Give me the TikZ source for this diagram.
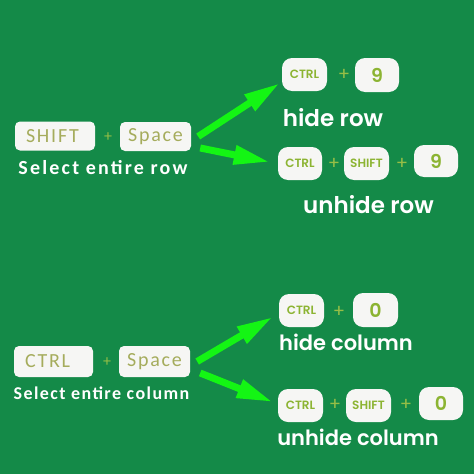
\documentclass[tikz,border=0pt]{standalone}
\usepackage{fontspec}
\setmainfont{Carlito}
\newfontfamily\pop{Poppins}[BoldFont={Poppins SemiBold}]
\newfontfamily\carsp{Carlito}[LetterSpace=9]
\newfontfamily\carspa{Carlito}[LetterSpace=11]
\newfontfamily\carspb{Carlito}[LetterSpace=8]
\usetikzlibrary{arrows.meta}
\definecolor{bg}{RGB}{20,138,72}
\definecolor{arrg}{RGB}{20,245,20}
\definecolor{keytxt}{RGB}{165,172,92}
\definecolor{keytxtb}{RGB}{140,180,50}
\definecolor{plusc}{RGB}{150,190,70}
\definecolor{keyfill}{RGB}{246,246,244}
\tikzset{
  bigkey/.style={fill=keyfill, rounded corners=5pt, inner sep=0pt, text=keytxt, font=\carsp\fontsize{20}{20}\selectfont},
  smallkey/.style={fill=keyfill, rounded corners=10pt, inner sep=0pt, text=keytxtb, font=\pop\bfseries\fontsize{12}{12}\selectfont},
  digitkey/.style={fill=keyfill, rounded corners=10pt, inner sep=0pt, text=keytxtb, font=\pop\bfseries\fontsize{19}{19}\selectfont},
  plus/.style={text=plusc, inner sep=0pt, font=\pop\fontsize{18}{18}\selectfont},
  plusl/.style={text=plusc, inner sep=0pt, font=\fontsize{16}{16}\selectfont},
  sellabela/.style={text=white, inner sep=0pt, font=\carspa\bfseries\fontsize{20}{20}\selectfont},
  sellabelb/.style={text=white, inner sep=0pt, font=\carspb\bfseries\fontsize{18}{18}\selectfont},
  actlabel/.style={text=white, inner sep=0pt, font=\pop\bfseries\fontsize{23}{23}\selectfont},
  actlabelb/.style={text=white, inner sep=0pt, font=\pop\bfseries\fontsize{21}{21}\selectfont},
  arr/.style={draw=arrg, line width=7pt, -{Triangle[length=36pt,width=18pt]}}
}
\begin{document}
\begin{tikzpicture}[x=1pt,y=-1pt]
\fill[bg] (0,0) rectangle (474,474);
\useasboundingbox (0,0) rectangle (474,474);
% top-left
\node[bigkey, minimum width=80, minimum height=29] (ka) at (55,136) {\makebox[58pt][l]{SHIFT}};
\node[plusl] (pa) at (108,137) {+};
\node[bigkey, minimum width=71, minimum height=29] (kb) at (155.5,136.5) {Space};
\node[sellabela] (la) at (103,168) {Select entire row};
% top-right upper
\node[smallkey, minimum width=45, minimum height=33] (c1) at (304.5,74.5) {CTRL};
\node[plus] (p1) at (344,75) {+};
\node[digitkey, minimum width=44, minimum height=34] (n1) at (377,75) {9};
\node[actlabel] (l1) at (333,118) {hide row};
% top-right lower
\node[smallkey, minimum width=44, minimum height=33] (c2) at (300,163.5) {CTRL};
\node[plus] (p2) at (334,164) {+};
\node[smallkey, minimum width=45, minimum height=33] (s2) at (366.5,163.5) {SHIFT};
\node[plus] (p3) at (402,164) {+};
\node[digitkey, minimum width=44, minimum height=32] (n2) at (436,161) {9};
\node[actlabel] (l2) at (368.5,205) {unhide row};
% bottom-left
\node[bigkey, minimum width=79, minimum height=31] (kc) at (53.5,361.5) {\makebox[57pt][l]{CTRL}};
\node[plusl] (pc) at (107,362) {+};
\node[bigkey, minimum width=71, minimum height=31] (kd) at (154.5,361.5) {Space};
\node[sellabelb] (lc) at (101.5,393) {Select entire column};
% bottom-right upper
\node[smallkey, minimum width=45, minimum height=33] (c3) at (301.5,310.5) {CTRL};
\node[plus] (p4) at (339,312) {+};
\node[digitkey, minimum width=45, minimum height=34] (n3) at (375.5,310) {0};
\node[actlabelb] (l3) at (346,342) {hide column};
% bottom-right lower
\node[smallkey, minimum width=45, minimum height=33] (c4) at (300.5,405.5) {CTRL};
\node[plus] (p5) at (335,405) {+};
\node[smallkey, minimum width=45, minimum height=33] (s4) at (368.5,405.5) {SHIFT};
\node[plus] (p6) at (406,405) {+};
\node[digitkey, minimum width=44, minimum height=33] (n4) at (441,403.5) {0};
\node[actlabelb] (l4) at (358,437) {unhide column};
% arrows
\draw[arr] ([xshift=7]kb.east) -- ([shift={(-2,-8)}]c1.south west);
\draw[arr] ([shift={(9,11.5)}]kb.east) -- ([shift={(-8,-1.5)}]c2.west);
\draw[arr] ([xshift=7]kd.east) -- ([shift={(-6,6.5)}]c3.west);
\draw[arr] ([shift={(10,11.5)}]kd.east) -- ([shift={(-5,-3.5)}]c4.west);
\end{tikzpicture}
\end{document}
